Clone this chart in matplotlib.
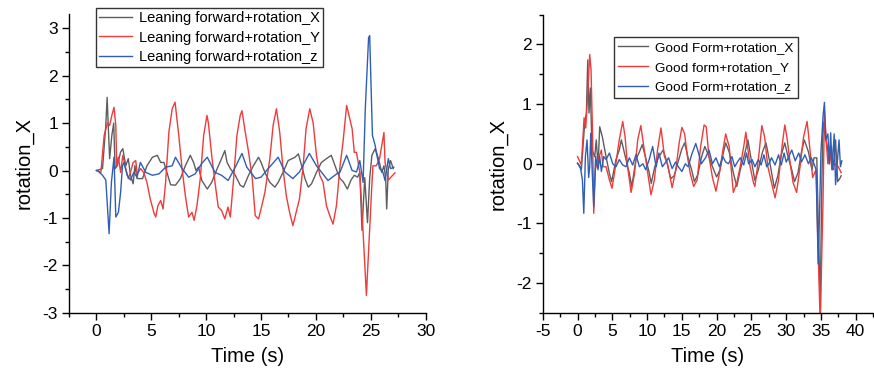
import numpy as np
import matplotlib
matplotlib.use('Agg')
import matplotlib.pyplot as plt
from matplotlib.ticker import MultipleLocator

plt.rcParams['font.family'] = ['Liberation Sans', 'DejaVu Sans']
plt.rcParams['axes.unicode_minus'] = False

# ---- left panel: leaning forward ----
lean_x_t = [0, 0.55, 0.85, 0.97, 1.1, 1.2, 1.4, 1.57, 1.7, 1.9,
            2.2, 2.4, 2.67, 2.9, 3.1, 3.34, 3.5, 3.7, 4.2, 4.6,
            5.1, 5.55, 5.85, 6.15, 6.46, 6.76, 7.2, 7.65, 8.1, 8.55,
            8.85, 9.07, 9.3, 9.6, 10.1, 10.5, 11.0, 11.4, 11.7, 11.9,
            12.2, 12.65, 13.1, 13.4, 13.86, 14.3, 14.77, 15.0, 15.35, 15.8,
            16.26, 16.56, 17.0, 17.47, 18.1, 18.4, 18.7, 19.0, 19.3, 19.6,
            20.05, 20.5, 20.96, 21.4, 21.9, 22.2, 22.5, 22.87, 23.2, 23.5,
            23.8, 24.0, 24.2, 24.45, 24.7, 24.9, 25.1, 25.4, 25.7, 26.0,
            26.2, 26.36, 26.45, 26.6, 26.8, 27.05]
lean_x_v = [0, 0.04, 0.95, 1.54, 0.8, 0.25, 0.74, 1.0, 0.04, 0.1,
            0.39, 0.46, 0.1, 0.25, -0.1, -0.28, 0.1, -0.17, -0.17, 0.1,
            0.28, 0.32, 0.17, 0.17, -0.07, -0.3, -0.31, -0.17, 0.1, 0.32,
            0.17, 0.0, 0.07, -0.21, -0.39, -0.25, 0.04, 0.25, 0.42, 0.17,
            0.04, -0.1, -0.31, -0.35, -0.1, 0.1, 0.28, 0.17, -0.04, -0.25,
            -0.35, -0.25, -0.04, 0.21, 0.28, 0.35, 0.1, -0.17, -0.35, -0.28,
            -0.04, 0.17, 0.25, 0.32, 0.0, -0.17, -0.24, -0.39, -0.2, -0.1,
            -0.14, -0.04, -1.26, -0.15, -1.1, -0.17, 0.32, 0.46, 0.25, -0.04,
            0.1, -0.17, -0.81, 0.04, 0.21, 0.04]

lean_y_t = [0, 0.4, 0.7, 1.0, 1.2, 1.4, 1.6, 1.76, 1.85, 2.0,
            2.2, 2.4, 2.67, 2.9, 3.1, 3.34, 3.58, 3.7, 4.03, 4.3,
            4.6, 4.9, 5.25, 5.4, 5.6, 5.85, 6.07, 6.3, 6.6, 6.9,
            7.16, 7.5, 7.8, 8.1, 8.4, 8.7, 8.9, 9.16, 9.46, 9.77,
            10.07, 10.2, 10.5, 10.8, 11.1, 11.4, 11.7, 11.98, 12.2, 12.5,
            12.8, 13.1, 13.26, 13.56, 13.86, 14.2, 14.47, 14.77, 15.04, 15.35,
            15.8, 16.1, 16.4, 16.7, 17.0, 17.3, 17.6, 17.9, 18.2, 18.5,
            18.84, 19.1, 19.44, 19.75, 20.05, 20.35, 20.65, 20.96, 21.26, 21.56,
            21.87, 22.2, 22.47, 22.8, 23.3, 23.5, 23.7, 24.0, 24.3, 24.6,
            25.1, 25.2, 25.5, 25.8, 26.2, 26.3, 26.6, 27.0, 27.2]
lean_y_v = [0, -0.04, 0.74, 1.0, 0.95, 1.16, 1.33, 0.95, 0.1, 0.28,
            -0.04, 0.32, 0.04, -0.17, -0.04, 0.17, 0.21, -0.07, 0.04, -0.04,
            -0.25, -0.6, -0.9, -0.98, -0.74, -0.63, -0.81, -0.25, 0.81, 1.3,
            1.44, 0.74, 0.04, -0.53, -0.98, -0.88, -1.05, -0.74, -0.17, 0.74,
            1.16, 1.0, 0.32, -0.25, -0.77, -0.84, -1.02, -0.77, -0.98, -0.17,
            0.74, 1.16, 1.26, 0.81, 0.39, -0.17, -0.95, -1.02, -0.77, -0.46,
            0.25, 0.95, 1.3, 0.81, 0.04, -0.53, -0.88, -1.16, -0.88, -0.6,
            0.1, 0.88, 1.3, 1.0, 0.32, -0.1, -0.25, -0.74, -0.95, -1.13,
            -0.74, 0.1, 0.6, 1.37, 0.88, 0.38, 0.38, -0.04, -1.3, -2.63,
            -0.3, 0.1, 0.1, 0.25, 0.8, 0.17, -0.2, -0.1, -0.05]

lean_z_t = [0, 0.09, 0.55, 0.85, 1.15, 1.36, 1.6, 1.76, 2.0, 2.2,
            2.37, 2.5, 2.8, 3.1, 3.4, 3.7, 4.0, 4.5, 5.1, 5.7,
            6.3, 6.9, 7.2, 7.8, 8.4, 9.0, 9.6, 10.1, 10.8, 11.4,
            12.0, 12.65, 13.26, 13.7, 14.5, 15.0, 15.65, 16.56, 17.17, 17.9,
            18.5, 19.4, 20.05, 21.1, 21.9, 22.2, 22.8, 23.3, 23.7, 24.0,
            24.3, 24.5, 24.8, 24.9, 25.15, 25.4, 25.5, 25.8, 26.1, 26.3,
            26.6, 26.8, 27.1]
lean_z_v = [0, 0, -0.1, -0.2, -1.33, -0.25, 0.28, -0.98, -0.88, -0.46,
            0.1, 0.17, -0.1, -0.2, -0.04, -0.14, 0.17, -0.04, -0.1, -0.07,
            0.07, 0.1, 0.28, 0.04, -0.14, -0.07, 0.15, 0.28, -0.04, -0.1,
            -0.21, 0.07, 0.36, 0.07, -0.17, -0.14, 0.04, 0.28, -0.03, -0.17,
            -0.03, 0.36, 0.1, -0.21, -0.07, -0.03, 0.32, 0.0, -0.03, 0.21,
            -0.25, 1.3, 2.8, 2.84, 0.74, 0.53, 0.39, 0.04, -0.03, -0.21,
            0.25, 0.04, 0.07]

# ---- right panel: good form ----
good_x_t = [0, 0.55, 1.03, 1.27, 1.47, 1.65, 1.85, 2.08, 2.47, 2.7,
            2.95, 3.19, 3.57, 4.1, 4.58, 4.9, 5.53, 6.0, 6.3, 6.97,
            7.45, 7.8, 8.4, 8.9, 9.3, 9.8, 10.3, 10.6, 11.1, 11.6,
            12.3, 12.8, 13.4, 13.9, 14.5, 15.0, 15.4, 15.9, 16.4, 16.8,
            17.3, 17.8, 18.3, 18.8, 19.4, 20.0, 20.5, 20.9, 21.3, 21.8,
            22.4, 22.9, 23.4, 24.0, 24.5, 25.0, 25.5, 26.0, 26.6, 27.1,
            27.6, 28.3, 28.8, 29.3, 29.8, 30.3, 30.8, 31.2, 31.7, 32.2,
            32.6, 33.2, 33.7, 34.0, 34.4, 34.65, 34.9, 35.1, 35.3, 35.6,
            35.9, 36.2, 36.5, 36.8, 37.1, 37.4, 37.7, 37.9]
good_x_v = [0.01, -0.1, 0.68, 0.85, 1.74, 0.85, 1.27, 0.23, 0.12, 0.4,
            -0.05, 0.62, 0.45, 0.12, -0.16, -0.3, 0.07, 0.23, 0.4, 0.07,
            -0.16, -0.38, 0.07, 0.2, 0.32, 0.1, -0.15, -0.33, -0.05, 0.1,
            0.23, 0.05, -0.25, -0.2, 0.05, 0.25, 0.35, 0.1, -0.1, -0.3,
            -0.18, 0.1, 0.29, 0.15, -0.05, -0.22, -0.1, 0.15, 0.35, 0.2,
            -0.15, -0.38, -0.1, 0.15, 0.4, 0.05, -0.28, -0.1, 0.2, 0.35,
            0.05, -0.41, -0.2, 0.15, 0.35, 0.1, -0.1, -0.3, -0.15, 0.2,
            0.4, 0.2, -0.1, 0.1, 0.1, -1.2, -2.3, -0.5, 0.7, 0.45,
            0.3, 0.0, 0.3, -0.1, 0.4, -0.3, -0.25, -0.2]

good_y_t = [0, 0.55, 0.94, 1.18, 1.5, 1.75, 1.94, 2.14, 2.33, 2.57,
            2.95, 3.43, 3.67, 4.1, 4.58, 4.96, 5.45, 6.0, 6.5, 6.83,
            7.2, 7.7, 8.2, 8.65, 9.1, 9.6, 10.1, 10.56, 11.05, 11.5,
            12.0, 12.5, 12.96, 13.6, 14.1, 14.6, 15.0, 15.4, 15.8, 16.2,
            16.7, 17.2, 17.7, 18.2, 18.5, 18.9, 19.4, 19.9, 20.4, 20.9,
            21.3, 21.8, 22.4, 22.9, 23.4, 23.9, 24.2, 24.8, 25.3, 25.5,
            26.0, 26.5, 26.9, 27.35, 27.9, 28.4, 28.9, 29.4, 29.8, 30.1,
            30.6, 31.0, 31.5, 32.0, 32.5, 33.0, 33.2, 33.8, 34.3, 34.6,
            34.9, 35.1, 35.3, 35.5, 35.8, 36.0, 36.3, 36.6, 37.0, 37.5, 37.9]
good_y_v = [0.12, -0.02, 0.77, 0.6, 1.24, 1.83, 1.58, 0.6, -0.83, -0.09,
            0.07, 0.23, -0.05, -0.05, -0.27, -0.41, -0.05, 0.4, 0.71, 0.46,
            -0.05, -0.48, -0.16, 0.4, 0.64, 0.23, -0.16, -0.52, -0.27, 0.23,
            0.6, 0.12, -0.01, -0.4, -0.12, 0.34, 0.61, 0.5, 0.12, -0.16,
            -0.38, -0.27, 0.29, 0.65, 0.62, 0.12, -0.23, -0.46, -0.16, 0.23,
            0.5, 0.29, -0.48, -0.32, -0.04, 0.29, 0.53, -0.04, -0.32, -0.38,
            0.07, 0.64, 0.45, -0.04, -0.32, -0.57, -0.27, 0.29, 0.65, 0.45,
            -0.01, -0.32, -0.48, -0.04, 0.45, 0.71, 0.5, -0.23, -0.1, -1.5,
            -2.7, -1.6, -0.6, 0.88, 0.3, 0.0, 0.2, -0.1, 0.0, -0.05, -0.15]

good_z_t = [0, 0.4, 0.7, 0.9, 1.13, 1.37, 1.6, 1.75, 1.9, 2.1,
            2.33, 2.6, 2.95, 3.19, 3.43, 3.76, 4.1, 4.58, 5.06, 5.53,
            6.0, 6.5, 6.97, 7.45, 7.93, 8.4, 8.9, 9.4, 9.8, 10.3,
            10.8, 11.3, 11.7, 12.2, 12.7, 13.1, 13.6, 14.1, 14.5, 15.0,
            15.5, 15.9, 16.4, 17.0, 17.4, 17.8, 18.4, 18.9, 19.4, 19.9,
            20.4, 20.9, 21.3, 21.7, 22.2, 22.6, 23.0, 23.4, 23.9, 24.3,
            24.6, 25.1, 25.5, 26.0, 26.4, 26.8, 27.2, 27.5, 27.9, 28.4,
            28.9, 29.3, 29.7, 30.0, 30.3, 30.8, 31.3, 31.8, 32.2, 32.7,
            33.2, 33.6, 34.0, 34.3, 34.6, 34.8, 35.0, 35.3, 35.5, 35.7,
            36.0, 36.2, 36.4, 36.6, 36.9, 37.1, 37.4, 37.6, 37.8, 38.0]
good_z_v = [0.01, -0.05, -0.27, -0.83, 0.12, 0.4, -0.23, -0.05, 0.51, -0.1,
            -0.72, 0.12, -0.1, 0.12, -0.13, 0.12, 0.07, 0.18, 0.0, -0.05,
            0.07, -0.02, -0.05, 0.1, -0.02, 0.15, -0.05, 0.0, -0.1, 0.07,
            0.29, -0.05, 0.18, -0.05, 0.03, 0.1, -0.08, 0.03, -0.05, -0.13,
            0.0, -0.05, 0.15, 0.34, 0.18, 0.0, 0.1, 0.23, 0.0, 0.1,
            -0.05, 0.12, 0.03, 0.0, 0.12, -0.05, 0.03, 0.1, -0.02, 0.18,
            0.0, 0.07, -0.05, 0.07, -0.02, 0.15, -0.05, 0.0, 0.1, -0.02,
            0.15, -0.02, 0.18, 0.03, 0.1, 0.23, 0.05, 0.18, 0.03, 0.15,
            0.0, 0.1, 0.0, -0.1, -1.68, -0.8, 0.2, 0.8, 1.03, 0.4,
            0.5, 0.0, 0.52, -0.1, 0.5, -0.35, 0.1, 0.4, -0.05, 0.05]

left_labels = ['Leaning forward+rotation_X', 'Leaning forward+rotation_Y',
               'Leaning forward+rotation_z']
right_labels = ['Good Form+rotation_X', 'Good form+rotation_Y',
                'Good Form+rotation_z']

c_gray = '#5e5e5e'
c_red = '#ee3b3b'
c_blue = '#2f5fb5'

fig = plt.figure(figsize=(8.74, 3.84), dpi=100)
ax1 = fig.add_axes([0.079, 0.185, 0.408, 0.779])
ax2 = fig.add_axes([0.621, 0.185, 0.378, 0.777])


def style(ax):
    for s in ['top', 'right']:
        ax.spines[s].set_visible(False)
    for s in ['left', 'bottom']:
        ax.spines[s].set_linewidth(1.0)
    ax.tick_params(which='major', direction='out', length=5, width=1,
                   labelsize=12.5, pad=3)
    ax.tick_params(which='minor', direction='out', length=3, width=1)
    ax.set_xlabel('Time (s)', fontsize=14.5, labelpad=6)
    ax.set_ylabel('rotation_X', fontsize=14.5, labelpad=6)


ax1.plot(lean_x_t, lean_x_v, color=c_gray, lw=1.0, label=left_labels[0])
ax1.plot(lean_y_t, lean_y_v, color=c_red, lw=1.0, label=left_labels[1])
ax1.plot(lean_z_t, lean_z_v, color=c_blue, lw=1.0, label=left_labels[2])
ax1.set_xlim(-2.5, 30)
ax1.set_ylim(-3, 3.3)
ax1.xaxis.set_major_locator(MultipleLocator(5))
ax1.xaxis.set_minor_locator(MultipleLocator(2.5))
ax1.yaxis.set_major_locator(MultipleLocator(1))
ax1.yaxis.set_minor_locator(MultipleLocator(0.5))
style(ax1)
leg1 = ax1.legend(loc='upper left', bbox_to_anchor=(0.075, 1.02),
                  fontsize=10.5, frameon=True, fancybox=False,
                  edgecolor='black', handlelength=2.2, labelspacing=0.35,
                  borderpad=0.25, handletextpad=0.5, borderaxespad=0)
leg1.get_frame().set_linewidth(1.0)

ax2.plot(good_x_t, good_x_v, color=c_gray, lw=1.0, label=right_labels[0])
ax2.plot(good_y_t, good_y_v, color=c_red, lw=1.0, label=right_labels[1])
ax2.plot(good_z_t, good_z_v, color=c_blue, lw=1.0, label=right_labels[2])
ax2.set_xlim(-5, 42.5)
ax2.set_ylim(-2.5, 2.5)
ax2.xaxis.set_major_locator(MultipleLocator(5))
ax2.xaxis.set_minor_locator(MultipleLocator(2.5))
ax2.yaxis.set_major_locator(MultipleLocator(1))
ax2.yaxis.set_minor_locator(MultipleLocator(0.5))
style(ax2)
leg2 = ax2.legend(loc='upper left', bbox_to_anchor=(0.215, 0.926),
                  fontsize=9.7, frameon=True, fancybox=False,
                  edgecolor='black', handlelength=2.2, labelspacing=0.55,
                  borderpad=0.35, handletextpad=0.5, borderaxespad=0)
leg2.get_frame().set_linewidth(1.0)

fig.savefig('out.png', dpi=100)
